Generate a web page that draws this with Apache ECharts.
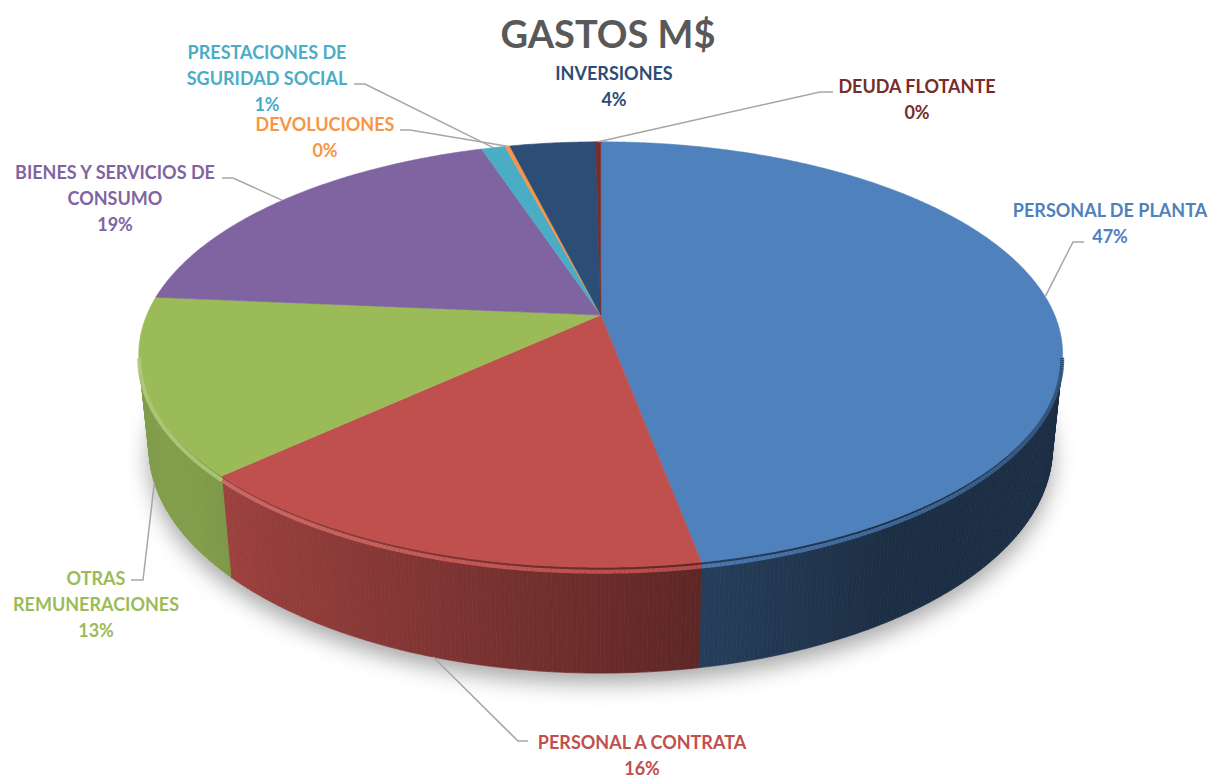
<!DOCTYPE html>
<html>
<head>
<meta charset="utf-8">
<title>GASTOS M$</title>
<script src="https://cdn.jsdelivr.net/npm/echarts@6/dist/echarts.min.js"></script>
<style>
  html, body { margin: 0; padding: 0; background: #fff; }
  #pie { width: 1216px; height: 778px; }
</style>
</head>
<body>
<div id="pie"></div>
<script>
// datos (porcentaje aproximado de cada item de gasto)
const categories = ['PERSONAL DE PLANTA', 'PERSONAL A CONTRATA', 'OTRAS REMUNERACIONES',
  'BIENES Y SERVICIOS DE CONSUMO', 'PRESTACIONES DE SGURIDAD SOCIAL', 'DEVOLUCIONES',
  'INVERSIONES', 'DEUDA FLOTANTE'];
const labelNames = ['PERSONAL DE PLANTA', 'PERSONAL A CONTRATA', 'OTRAS\nREMUNERACIONES',
  'BIENES Y SERVICIOS DE\nCONSUMO', 'PRESTACIONES DE\nSGURIDAD SOCIAL', 'DEVOLUCIONES',
  'INVERSIONES', 'DEUDA FLOTANTE'];
const values = [47.1, 15.9, 13.4, 18.6, 1.0, 0.2, 3.6, 0.2];
const colors = ['#4F81BD', '#C0504D', '#9BBB59', '#8064A2', '#4BACC6', '#F79646', '#2C4D75', '#772C2A'];

// posicion de etiquetas (centro de la primera linea) y guias
const labelLayout = [
  { x: 1110, y: 210, guide: [[1073, 242], [1084, 242]] },
  { x: 642, y: 742, guide: [[518, 741], [528, 741]] },
  { x: 96, y: 578, guide: [[143, 580], [131, 580]] },
  { x: 115, y: 172, guide: [[233, 178], [222, 178]] },
  { x: 267, y: 52, guide: [[365, 84], [354, 84]] },
  { x: 325, y: 124, guide: [[410, 130], [400, 130]] },
  { x: 614, y: 73, guide: null },
  { x: 917, y: 86, guide: [[820, 92], [833, 92]] }
];

// camara 3D (perspectiva simple)
const CX = 600.7, CY = 315;
const R = 0.2084, H = 0.0484, F = 2178;
const ALPHA = 26.9 * Math.PI / 180;
const SA = Math.sin(ALPHA), CA = Math.cos(ALPHA);
const STEP = 0.5 * Math.PI / 180;

function proj(t, yh) {
  const X = R * Math.sin(t), Z = R * Math.cos(t);
  const u = Z * SA + yh * CA;
  const w = Z * CA - yh * SA;
  return [CX + F * X / (1 + w), CY - F * u / (1 + w)];
}

function rgb(hex) {
  const n = parseInt(hex.slice(1), 16);
  return [(n >> 16) & 255, (n >> 8) & 255, n & 255];
}
function shade(hex, f) {
  const c = rgb(hex).map(v => Math.round(v * f));
  return 'rgb(' + c.join(',') + ')';
}
function tint(hex, k) {
  const c = rgb(hex).map(v => Math.round(v + (255 - v) * k));
  return 'rgb(' + c.join(',') + ')';
}

const total = values.reduce((a, b) => a + b, 0);
const sliceData = [];
let acc = 0;
values.forEach((v, i) => {
  sliceData.push({ name: categories[i], value: [acc / total, (acc + v) / total, v] });
  acc += v;
});

const limit = -R / CA;

function wallItem(params, api) {
  const i = params.dataIndex;
  const t0 = api.value(0) * 2 * Math.PI, t1 = api.value(1) * 2 * Math.PI;
  const children = [];
  if (i === 0) {
    const pts = [];
    for (let a = 0; a <= 2 * Math.PI + 1e-6; a += STEP * 4) pts.push(proj(a, -H));
    children.push({
      type: 'polygon', shape: { points: pts },
      style: { fill: '#fff', shadowBlur: 22, shadowColor: 'rgba(0,0,0,0.35)', shadowOffsetY: 10 }
    });
  }
  for (let a = t0; a < t1; a += STEP) {
    const b = Math.min(a + STEP, t1);
    const m = (a + b) / 2;
    if (Math.cos(m) >= limit) continue;
    const f = Math.max(0.36, Math.min(0.84, 0.55 - 0.36 * Math.sin(m)));
    const c = shade(colors[i], f);
    children.push({
      type: 'polygon',
      shape: { points: [proj(a, 0), proj(b, 0), proj(b, -H), proj(a, -H)] },
      style: { fill: c, stroke: c, lineWidth: 0.8 }
    });
  }
  return { type: 'group', children: children };
}

function topItem(params, api) {
  const i = params.dataIndex;
  const t0 = api.value(0) * 2 * Math.PI, t1 = api.value(1) * 2 * Math.PI;
  const pts = [[CX, CY]];
  for (let a = t0; a < t1; a += STEP) pts.push(proj(a, 0));
  pts.push(proj(t1, 0));
  const children = [{
    type: 'polygon', shape: { points: pts },
    style: { fill: colors[i], stroke: colors[i], lineWidth: 0.6 }
  }];
  // bisel del borde superior
  for (let a = t0; a < t1; a += STEP) {
    const b = Math.min(a + STEP, t1);
    const m = (a + b) / 2;
    if (Math.cos(m) >= limit + 0.05) continue;
    const k = -Math.sin(m);
    const c = k > 0 ? tint(colors[i], 0.22 * k) : shade(colors[i], 1 + 0.35 * k);
    const p = proj(a, -0.002), q = proj(b, -0.002);
    children.push({
      type: 'line', shape: { x1: p[0], y1: p[1], x2: q[0], y2: q[1] },
      style: { stroke: c, lineWidth: 4 }
    });
  }
  // etiqueta y guia
  const lay = labelLayout[i];
  const pct = Math.round(api.value(2) / total * 100) + '%';
  if (lay.guide) {
    const mid = (t0 + t1) / 2;
    const start = Math.cos(mid) < 0 ? proj(mid, -H) : proj(mid, 0);
    children.push({
      type: 'polyline',
      shape: { points: [start, lay.guide[0], lay.guide[1]] },
      style: { stroke: '#A6A6A6', lineWidth: 1.5, fill: null }
    });
  }
  children.push({
    type: 'text', x: lay.x, y: lay.y - 13,
    style: {
      text: labelNames[i] + '\n' + pct,
      fill: colors[i], align: 'center', verticalAlign: 'top',
      font: 'bold 18px Lato', lineHeight: 26
    }
  });
  return { type: 'group', children: children };
}

const chart = echarts.init(document.getElementById('pie'), null, { renderer: 'svg' });
chart.setOption({
  animation: false,
  backgroundColor: '#fff',
  title: {
    text: 'GASTOS M$', left: 'center', top: 9,
    textStyle: { fontFamily: 'Lato', fontWeight: 'bold', fontSize: 38, color: '#595959' }
  },
  series: [
    { type: 'custom', name: 'paredes', coordinateSystem: 'none', z: 1, renderItem: wallItem, data: sliceData },
    { type: 'custom', name: 'gastos', coordinateSystem: 'none', z: 2, renderItem: topItem, data: sliceData }
  ]
});
</script>
</body>
</html>
